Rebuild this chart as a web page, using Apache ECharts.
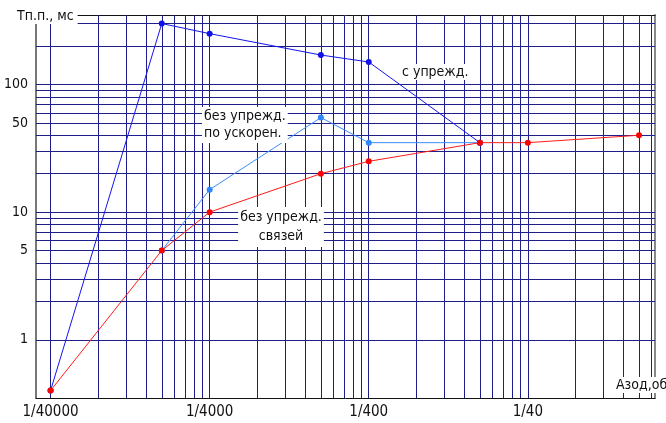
<!DOCTYPE html>
<html>
<head>
<meta charset="utf-8">
<script src="https://cdn.jsdelivr.net/npm/echarts@6/dist/echarts.min.js"></script>
<style>html,body{margin:0;padding:0;background:#fff}#c{width:666px;height:423px}</style>
</head>
<body>
<div id="c"></div>
<script>
// X values are ratios 1/den; plotted in units of 1/40000
const X_BASE = 40000;
const xTickDens = [40000, 4000, 400, 40];
const xTickLabels = ['1/40000', '1/4000', '1/400', '1/40'];
const yTickValues = [1, 5, 10, 50, 100];
const yTickLabels = ['1', '5', '10', '50', '100'];

// "с упрежд."
const withLeadDen = [40000, 8000, 4000, 800, 400, 80];
const withLeadT = [0.4, 300, 250, 170, 150, 35];
// "без упрежд. по ускорен."
const accelDen = [8000, 4000, 800, 400, 80];
const accelT = [5, 15, 55, 35, 35];
// "без упрежд. связей"
const noLeadDen = [40000, 8000, 4000, 800, 400, 80, 40, 8];
const noLeadT = [0.4, 5, 10, 20, 25, 35, 35, 40];

const X_MIN = 0.81, X_MAX = 6300, Y_MIN = 0.35, Y_MAX = 350;
const FONT = "'Liberation Sans Narrow', 'DejaVu Sans Condensed', 'Noto Sans', sans-serif";

function pts(dens, vals) { return dens.map((d, i) => [X_BASE / d, vals[i]]); }

const gridLines = [];
[1, 10, 100, 1000].forEach(dec => {
  for (let m = 1; m <= 9; m++) {
    const v = dec * m;
    if (v > X_MAX) continue;
    const idx = xTickDens.findIndex(d => X_BASE / d === v);
    gridLines.push({
      xAxis: v,
      label: idx >= 0 ? { show: true, position: 'start', formatter: xTickLabels[idx], distance: 7,
        fontSize: 15, color: '#111', fontFamily: FONT } : { show: false }
    });
  }
});
[1, 10, 100].forEach(dec => {
  for (let m = 1; m <= 9; m++) {
    const v = dec * m;
    if (v > Y_MAX) continue;
    const idx = yTickValues.indexOf(v);
    gridLines.push({
      yAxis: v,
      label: idx >= 0 ? { show: true, position: 'start', formatter: yTickLabels[idx], distance: 8,
        fontSize: 14, color: '#111', fontFamily: FONT } : { show: false }
    });
  }
});

const chart = echarts.init(document.getElementById('c'), null, { renderer: 'canvas' });
chart.setOption({
  animation: false,
  backgroundColor: '#fff',
  grid: { left: 36, right: 11, top: 15, bottom: 25 },
  xAxis: [
    { type: 'log', min: X_MIN, max: X_MAX, axisLine: { show: true, lineStyle: { color: '#111', width: 1 } },
      axisTick: { show: false }, axisLabel: { show: false }, splitLine: { show: false }, minorSplitLine: { show: false } },
    { type: 'log', position: 'top', min: X_MIN, max: X_MAX, axisLine: { show: true, onZero: false, lineStyle: { color: '#111', width: 1 } },
      axisTick: { show: false }, axisLabel: { show: false }, splitLine: { show: false } }
  ],
  yAxis: [
    { type: 'log', min: Y_MIN, max: Y_MAX, axisLine: { show: true, lineStyle: { color: '#777', width: 2 } },
      axisTick: { show: false }, axisLabel: { show: false }, splitLine: { show: false } },
    { type: 'log', position: 'right', min: Y_MIN, max: Y_MAX, axisLine: { show: true, onZero: false, lineStyle: { color: '#888', width: 2 } },
      axisTick: { show: false }, axisLabel: { show: false }, splitLine: { show: false } }
  ],
  series: [
    {
      name: 'с упрежд.', type: 'line', data: pts(withLeadDen, withLeadT),
      symbol: 'circle', symbolSize: 6, z: 3,
      lineStyle: { color: '#1414f0', width: 1 }, itemStyle: { color: '#1010e8' },
      markLine: { silent: true, symbol: 'none', z: 1, animation: false,
        lineStyle: { color: '#1e1e8c', width: 1, type: 'solid' }, data: gridLines }
    },
    {
      name: 'без упрежд. по ускорен.', type: 'line', data: pts(accelDen, accelT),
      symbol: 'circle', symbolSize: 6, z: 4,
      lineStyle: { color: '#3c8cff', width: 1 }, itemStyle: { color: '#2e86ff' }
    },
    {
      name: 'без упрежд. связей', type: 'line', data: pts(noLeadDen, noLeadT),
      symbol: 'circle', symbolSize: 6, z: 5,
      lineStyle: { color: '#ff1a1a', width: 1 }, itemStyle: { color: '#ff0000' }
    }
  ],
  graphic: [
    { type: 'text', left: 14, top: 8, z: 100, style: { text: 'Тп.п., мс', font: '14px ' + FONT, fill: '#111', backgroundColor: '#fff', padding: [1, 4, 1, 3] } },
    { type: 'text', left: 400, top: 64, z: 100, style: { text: 'с упрежд.', font: '14px ' + FONT, fill: '#111', backgroundColor: '#fff', padding: [1, 2] } },
    { type: 'text', left: 202, top: 107, z: 100, style: { text: 'без упрежд.\nпо ускорен.', font: '14px ' + FONT, lineHeight: 17, fill: '#111', backgroundColor: '#fff', padding: [1, 2] } },
    { type: 'text', x: 281, y: 207, z: 100, style: { text: 'без упрежд.\nсвязей', align: 'center', verticalAlign: 'top', font: '14px ' + FONT, lineHeight: 19, fill: '#111', backgroundColor: '#fff', padding: [1, 2] } },
    { type: 'text', left: 614, top: 377, z: 100, style: { text: 'Азод,об', font: '14px ' + FONT, fill: '#111', backgroundColor: '#fff', padding: [1, 2] } }
  ]
});
</script>
</body>
</html>
